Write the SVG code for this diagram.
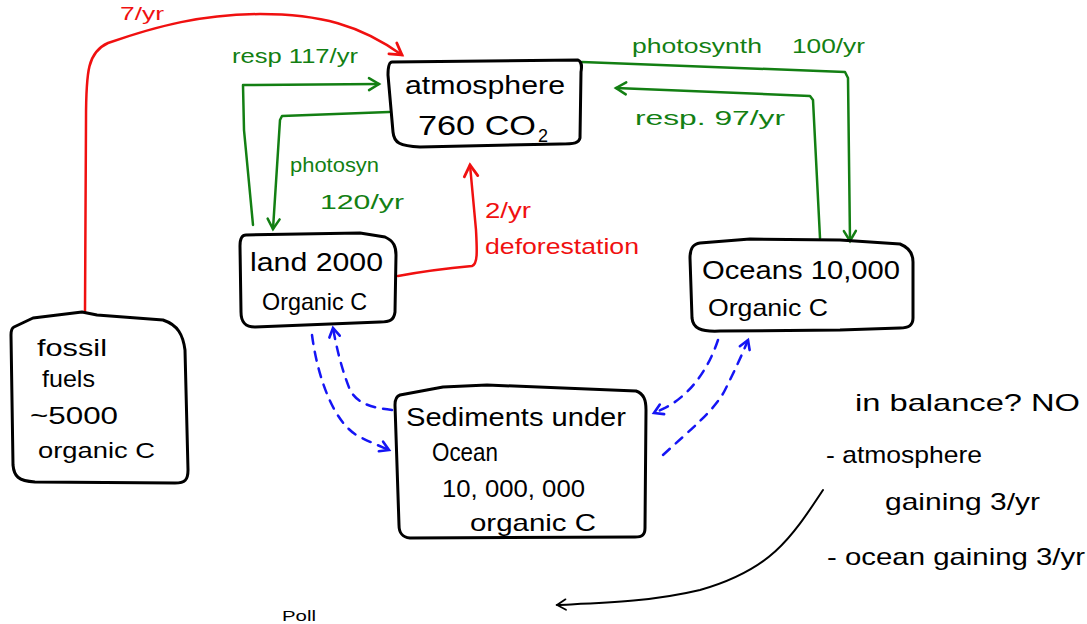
<svg xmlns="http://www.w3.org/2000/svg" width="1087" height="624" viewBox="0 0 1087 624">
<style>
.box{fill:none;stroke:#000;stroke-width:3;stroke-linejoin:round;stroke-linecap:round}
.t{font-family:"Liberation Sans",Arial,sans-serif;fill:#000}
.g{font-family:"Liberation Sans",Arial,sans-serif;fill:#137f13}
.r{font-family:"Liberation Sans",Arial,sans-serif;fill:#f01010}
.cg{fill:none;stroke:#137f13;stroke-width:2.5;stroke-linecap:round;stroke-linejoin:round}
.cr{fill:none;stroke:#f01010;stroke-width:2.5;stroke-linecap:round;stroke-linejoin:round}
.cb{fill:none;stroke:#1515f5;stroke-width:2.5;stroke-dasharray:9 8;stroke-linecap:round}
.ck{fill:none;stroke:#000;stroke-width:2;stroke-linecap:round}
</style>
<defs>
<marker id="ag" viewBox="0 0 16 16" refX="13" refY="8" markerWidth="16" markerHeight="16" markerUnits="userSpaceOnUse" orient="auto"><path d="M3,2 L13,8 L3,14" fill="none" stroke="#137f13" stroke-width="2.5" stroke-linecap="round"/></marker>
<marker id="ar" viewBox="0 0 16 16" refX="13" refY="8" markerWidth="18" markerHeight="18" markerUnits="userSpaceOnUse" orient="auto"><path d="M3,2 L13,8 L3,14" fill="none" stroke="#f01010" stroke-width="2.5" stroke-linecap="round"/></marker>
<marker id="ab" viewBox="0 0 16 16" refX="13" refY="8" markerWidth="14" markerHeight="14" markerUnits="userSpaceOnUse" orient="auto"><path d="M3,2 L13,8 L3,14" fill="none" stroke="#1515f5" stroke-width="3" stroke-linecap="round"/></marker>
<marker id="ak" viewBox="0 0 16 16" refX="13" refY="8" markerWidth="14" markerHeight="14" markerUnits="userSpaceOnUse" orient="auto"><path d="M3,2 L13,8 L3,14" fill="none" stroke="#000" stroke-width="2" stroke-linecap="round"/></marker>
</defs>

<g id="connectors">
<path class="cr" d="M85,312 L86,120 C86,70 88,52 108,43 C160,25 200,15 260,14 C320,14 360,25 402,55" marker-end="url(#ar)"/>
<path class="cr" d="M398,276 C430,270 450,268 472,266 C478,264 477,250 476,230 L470,165" marker-end="url(#ar)"/>
<path class="cg" d="M253,225 L244,130 L243,85 L379,84" marker-end="url(#ag)"/>
<path class="cg" d="M389,112 L282,116 L280,120 L273,229" marker-end="url(#ag)"/>
<path class="cg" d="M582,62 L845,72 L848,78 L850,241" marker-end="url(#ag)"/>
<path class="cg" d="M820,238 L813,100 L810,96 L616,88" marker-end="url(#ag)"/>
<path class="cb" d="M312,335 C318,380 335,425 360,437 C372,443 380,446 389,450" marker-end="url(#ab)"/>
<path class="cb" d="M392,410 C375,408 358,405 350,390 C342,370 337,350 333,328" marker-end="url(#ab)"/>
<path class="cb" d="M718,340 C708,370 690,395 665,408 L654,413" marker-end="url(#ab)"/>
<path class="cb" d="M663,455 C690,430 715,410 725,390 C735,370 742,355 748,340" marker-end="url(#ab)"/>
<path class="ck" d="M823,490 C790,540 770,570 700,590 C650,602 600,603 557,605" marker-end="url(#ak)"/>
<text class="r" x="120" y="20" font-size="18" textLength="44" lengthAdjust="spacingAndGlyphs">7/yr</text>
<text class="g" x="232" y="63" font-size="20" textLength="126" lengthAdjust="spacingAndGlyphs">resp 117/yr</text>
<text class="g" x="290" y="172" font-size="20" textLength="89" lengthAdjust="spacingAndGlyphs">photosyn</text>
<text class="g" x="320" y="209" font-size="20" textLength="84" lengthAdjust="spacingAndGlyphs">120/yr</text>
<text class="g" x="632" y="53" font-size="20" textLength="130" lengthAdjust="spacingAndGlyphs">photosynth</text>
<text class="g" x="792" y="53" font-size="20" textLength="73" lengthAdjust="spacingAndGlyphs">100/yr</text>
<text class="g" x="635" y="125" font-size="20" textLength="150" lengthAdjust="spacingAndGlyphs">resp. 97/yr</text>
<text class="r" x="485" y="218" font-size="22" textLength="46" lengthAdjust="spacingAndGlyphs">2/yr</text>
<text class="r" x="485" y="254" font-size="22" textLength="154" lengthAdjust="spacingAndGlyphs">deforestation</text>
</g>

<g id="atmosphere">
<path class="box" d="M392,62 L578,60 C582,62 582,66 581,72 L580,138 C579,143 575,144 560,144 L420,147 C400,146 394,143 393,132 L388,75 C388,66 389,62 392,62 Z"/>
<text class="t" x="405" y="94" font-size="26" textLength="160" lengthAdjust="spacingAndGlyphs">atmosphere</text>
<text class="t" x="418" y="135" font-size="28" textLength="118" lengthAdjust="spacingAndGlyphs">760 CO</text>
<text class="t" x="538" y="142" font-size="18">2</text>
</g>

<g id="land">
<path class="box" d="M246,235 L360,233 L385,237 C394,241 396,247 396,255 L395,312 C394,320 390,322 380,322 L255,327 C245,327 241,322 241,312 L240,246 C240,238 242,235 246,235 Z"/>
<text class="t" x="250" y="271" font-size="26" textLength="133" lengthAdjust="spacingAndGlyphs">land 2000</text>
<text class="t" x="262" y="310" font-size="24" textLength="105" lengthAdjust="spacingAndGlyphs">Organic C</text>
</g>

<g id="oceans">
<path class="box" d="M700,243 L750,239 L840,240 L900,244 C910,248 913,254 913,262 L913,318 C913,326 908,328 900,328 L840,330 L720,331 C700,332 693,328 692,318 L690,258 C690,248 693,244 700,243 Z"/>
<text class="t" x="702" y="279" font-size="26" textLength="198" lengthAdjust="spacingAndGlyphs">Oceans 10,000</text>
<text class="t" x="708" y="316" font-size="24" textLength="120" lengthAdjust="spacingAndGlyphs">Organic C</text>
</g>

<g id="fossil">
<path class="box" d="M14,327 L33,318 L82,312 L97,315 L163,320 C178,325 183,335 185,350 L188,470 C188,480 185,483 175,483 L35,482 C18,481 14,476 13,465 L11,335 C11,330 12,328 14,327 Z"/>
<text class="t" x="37" y="356" font-size="24" textLength="70" lengthAdjust="spacingAndGlyphs">fossil</text>
<text class="t" x="42" y="387" font-size="24" textLength="53" lengthAdjust="spacingAndGlyphs">fuels</text>
<text class="t" x="30" y="424" font-size="24" textLength="88" lengthAdjust="spacingAndGlyphs">~5000</text>
<text class="t" x="38" y="458" font-size="22" textLength="117" lengthAdjust="spacingAndGlyphs">organic C</text>
</g>

<g id="sediments">
<path class="box" d="M400,395 L443,387 L487,385 L636,391 C644,394 646,400 646,410 L645,528 C645,535 642,537 635,537 L410,538 C402,537 399,533 399,525 L395,405 C395,398 397,396 400,395 Z"/>
<text class="t" x="406" y="426" font-size="26" textLength="220" lengthAdjust="spacingAndGlyphs">Sediments under</text>
<text class="t" x="432" y="461" font-size="25" textLength="66" lengthAdjust="spacingAndGlyphs">Ocean</text>
<text class="t" x="442" y="497" font-size="24" textLength="143" lengthAdjust="spacingAndGlyphs">10, 000, 000</text>
<text class="t" x="470" y="531" font-size="24" textLength="126" lengthAdjust="spacingAndGlyphs">organic C</text>
</g>

<g id="notes">
<text class="t" x="855" y="411" font-size="24" textLength="225" lengthAdjust="spacingAndGlyphs">in balance? NO</text>
<text class="t" x="826" y="463" font-size="24" textLength="156" lengthAdjust="spacingAndGlyphs">- atmosphere</text>
<text class="t" x="885" y="510" font-size="24" textLength="155" lengthAdjust="spacingAndGlyphs">gaining 3/yr</text>
<text class="t" x="827" y="565" font-size="24" textLength="258" lengthAdjust="spacingAndGlyphs">- ocean gaining 3/yr</text>
<text class="t" x="282" y="621" font-size="15" textLength="34" lengthAdjust="spacingAndGlyphs">Poll</text>
</g>
</svg>
